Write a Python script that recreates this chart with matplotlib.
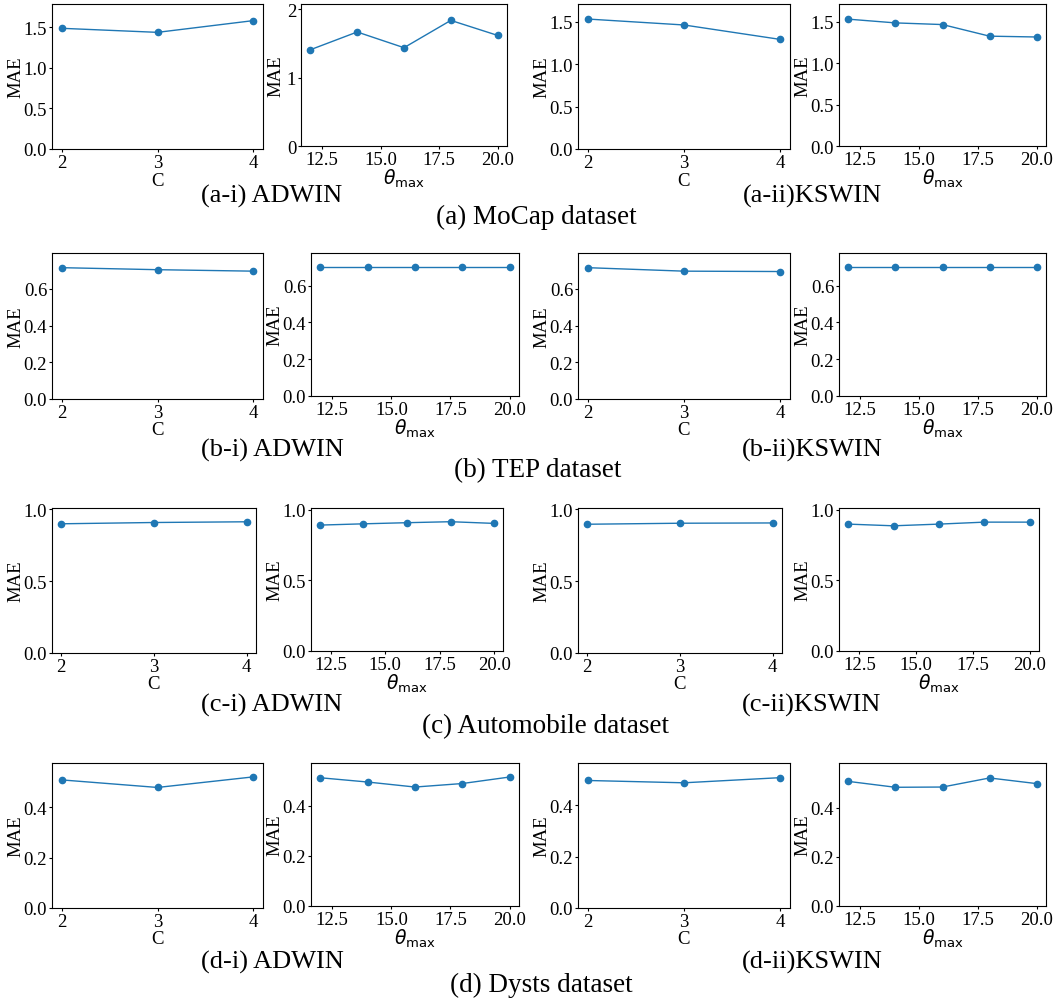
import matplotlib
matplotlib.use("Agg")
import matplotlib.pyplot as plt
from matplotlib.ticker import MultipleLocator, FormatStrFormatter

plt.rcParams['font.family'] = 'serif'
plt.rcParams['font.serif'] = ['Liberation Serif', 'DejaVu Serif']
plt.rcParams['mathtext.fontset'] = 'dejavusans'

# ---------------- data ----------------
C_vals = [2, 3, 4]
theta_vals = [12, 14, 16, 18, 20]
theta_ticks = [12.5, 15.0, 17.5, 20.0]

mocap_adwin_C = [1.49, 1.44, 1.585]
mocap_adwin_theta = [1.41, 1.67, 1.44, 1.84, 1.62]
mocap_kswin_C = [1.53, 1.46, 1.29]
mocap_kswin_theta = [1.53, 1.485, 1.465, 1.325, 1.315]

tep_adwin_C = [0.716, 0.705, 0.697]
tep_adwin_theta = [0.70, 0.70, 0.70, 0.70, 0.70]
tep_kswin_C = [0.716, 0.697, 0.695]
tep_kswin_theta = [0.70, 0.70, 0.70, 0.70, 0.70]

auto_adwin_C = [0.900, 0.909, 0.914]
auto_adwin_theta = [0.891, 0.900, 0.908, 0.915, 0.903]
auto_kswin_C = [0.896, 0.903, 0.905]
auto_kswin_theta = [0.898, 0.886, 0.898, 0.912, 0.912]

dysts_adwin_C = [0.508, 0.478, 0.520]
dysts_adwin_theta = [0.512, 0.495, 0.475, 0.489, 0.515]
dysts_kswin_C = [0.496, 0.487, 0.507]
dysts_kswin_theta = [0.508, 0.484, 0.485, 0.522, 0.499]

ylim_tops = [[1.79, 2.08, 1.707, 1.713],
             [0.796, 0.778, 0.796, 0.778],
             [1.01, 1.012, 1.009, 1.012],
             [0.575, 0.571, 0.564, 0.583]]
ytick_steps = [[0.5, 1.0, 0.5, 0.5],
               [0.2, 0.2, 0.2, 0.2],
               [0.5, 0.5, 0.5, 0.5],
               [0.2, 0.2, 0.2, 0.2]]
ytick_fmt = [['%.1f', '%d', '%.1f', '%.1f'],
             ['%.1f', '%.1f', '%.1f', '%.1f'],
             ['%.1f', '%.1f', '%.1f', '%.1f'],
             ['%.1f', '%.1f', '%.1f', '%.1f']]

rows = [
    [mocap_adwin_C, mocap_adwin_theta, mocap_kswin_C, mocap_kswin_theta],
    [tep_adwin_C, tep_adwin_theta, tep_kswin_C, tep_kswin_theta],
    [auto_adwin_C, auto_adwin_theta, auto_kswin_C, auto_kswin_theta],
    [dysts_adwin_C, dysts_adwin_theta, dysts_kswin_C, dysts_kswin_theta],
]
row_letters = ['a', 'b', 'c', 'd']
dataset_names = ['MoCap dataset', 'TEP dataset', 'Automobile dataset', 'Dysts dataset']

# ---------------- layout (pixels) ----------------
W, H = 1058, 1004
rects = [
    [(52, 263, 5, 150), (301, 507, 5, 147), (578, 790, 5, 150), (839, 1046, 5, 147)],
    [(52, 263, 254, 400), (311, 519, 254, 397), (578, 790, 254, 400), (839, 1046, 254, 397)],
    [(52, 256, 509, 654), (311, 503, 509, 652), (578, 782, 509, 654), (839, 1039, 509, 652)],
    [(52, 263, 764, 909), (311, 519, 764, 907), (578, 790, 764, 909), (839, 1046, 764, 907)],
]
cap_y = [(196, 217), (450, 471), (705, 727), (962, 985)]
cap_x_sub = (272, 812)
cap_x_main = [536, 538, 545, 541]

fig = plt.figure(figsize=(W / 100, H / 100), dpi=100)

for r in range(4):
    for c in range(4):
        l, rr, t, b = rects[r][c]
        wpx, hpx = rr - l, b - t
        ax = fig.add_axes([l / W, 1 - b / H, wpx / W, hpx / H])
        xs = C_vals if c % 2 == 0 else theta_vals
        ax.plot(xs, rows[r][c], color='#1f77b4', marker='o', markersize=4.5, linewidth=1.0)
        ax.set_ylim(0, ylim_tops[r][c])
        ax.yaxis.set_major_locator(MultipleLocator(ytick_steps[r][c]))
        ax.yaxis.set_major_formatter(FormatStrFormatter(ytick_fmt[r][c]))
        if c % 2 == 0:
            ax.set_xticks(C_vals)
            ax.set_xlabel('C', fontsize=13.5)
            xoff = 31
        else:
            ax.set_xticks(theta_ticks)
            ax.xaxis.set_major_formatter(FormatStrFormatter('%.1f'))
            ax.set_xlabel(r'$\theta_{\rm max}$', fontsize=13.5)
            xoff = 32
        ax.set_ylabel('MAE', fontsize=13.5)
        ax.tick_params(labelsize=13.5, length=2.5, pad=1.0)
        ax.xaxis.label.set_va('center')
        ax.xaxis.set_label_coords(0.5, -xoff / hpx)
        yoff = 25 if (r == 0 and c == 1) else 36
        ax.yaxis.label.set_va('center')
        ax.yaxis.set_label_coords(-yoff / wpx, 0.5)

    fig.text(cap_x_sub[0] / W, 1 - cap_y[r][0] / H, f'({row_letters[r]}-i) ADWIN',
             ha='center', va='center', fontsize=19)
    fig.text(cap_x_sub[1] / W, 1 - cap_y[r][0] / H, f'({row_letters[r]}-ii)KSWIN',
             ha='center', va='center', fontsize=19)
    fig.text(cap_x_main[r] / W, 1 - cap_y[r][1] / H, f'({row_letters[r]}) {dataset_names[r]}',
             ha='center', va='center', fontsize=19.5)

fig.savefig('out.png', dpi=100)
